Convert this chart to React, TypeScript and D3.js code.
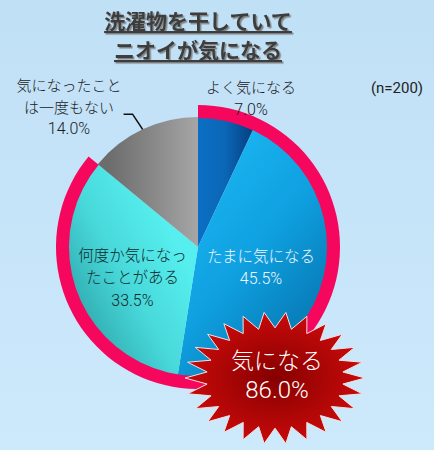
import React from 'react';
import * as d3 from 'd3';

const categories = ['よく気になる', 'たまに気になる', '何度か気になったことがある', '気になったことは一度もない'];
const values = [7.0, 45.5, 33.5, 14.0];
const labelLines = [
  ['よく気になる', '7.0%'],
  ['たまに気になる', '45.5%'],
  ['何度か気になっ', 'たことがある', '33.5%'],
  ['気になったこと', 'は一度もない', '14.0%'],
];
const titleLines = ['洗濯物を干していて', 'ニオイが気になる'];
const highlightCount = 3; // first three slices = 気になる
const burstTitle = '気になる';
const sampleNote = '(n=200)';

const sliceColors = [
  ['#0b6fc4', '#0b66b6', '#053f80'],
  ['#18b0ee', '#0fa0e0', '#0880bc'],
  ['#56eeee', '#48d8da', '#2ea8ac'],
  ['#6c6c6c', '#888888', '#a6a6a6'],
];
// gradient vectors, relative to the pie centre
const sliceGrad = [
  [0, -60, 55, -60],
  [20, -70, 135, 30],
  [-20, 0, -130, 60],
  [-90, -60, 0, -60],
];

const W = 434;
const H = 450;
const cx = 198;
const cy = 247;
const R = 130;
const FONT = '"Noto Sans CJK JP", "Noto Sans", sans-serif';
const NUM_FONT = 'Roboto, "Noto Sans", sans-serif';

const isNum = (t: string) => /^[\d.%()=n]+$/.test(t);

export default function App() {
  const pie = d3.pie<number>().sort(null).value(d => d)(values);
  const arc = d3.arc<d3.PieArcDatum<number>>().innerRadius(0).outerRadius(R);
  const ringEnd = pie[highlightCount - 1].endAngle;
  const ring = d3.arc()({ innerRadius: R - 1, outerRadius: R + 12, startAngle: 0, endAngle: ringEnd }) || '';

  const highlightTotal = d3.sum(values.slice(0, highlightCount));

  // starburst
  const spikes = 26;
  const burst = d3.range(spikes * 2).map(i => {
    const a = (i / (spikes * 2)) * Math.PI * 2;
    const k = i % 2 === 0 ? 1 : 0.76;
    return [Math.cos(a) * 90 * k, Math.sin(a) * 66 * k] as [number, number];
  });
  const burstPath = (d3.line().curve(d3.curveLinearClosed)(burst)) || '';

  // leader for the last slice
  const last = pie[3];
  const midA = (last.startAngle + last.endAngle) / 2;
  const pEdge = [Math.sin(midA) * R, -Math.cos(midA) * R];
  const pElbow = [Math.sin(midA) * 149, -Math.cos(midA) * 149 + 2];
  const leader = `M${pEdge[0]},${pEdge[1]}L${pElbow[0] - 2},${pElbow[1]}L${pElbow[0] - 11},${pElbow[1]}`;

  const inner = d3.arc<d3.PieArcDatum<number>>().innerRadius(68).outerRadius(68);

  return (
    <div>
      <style>{'body{margin:0}'}</style>
      <svg width={W} height={H} style={{ display: 'block', fontFamily: FONT }}>
        <defs>
          <linearGradient id="bg" x1="0" y1="0" x2="0" y2="1">
            <stop offset="0" stopColor="#c0e0f6" />
            <stop offset="1" stopColor="#cde9fc" />
          </linearGradient>
          {sliceColors.map((c, i) => (
            <linearGradient key={i} id={`sg${i}`} gradientUnits="userSpaceOnUse"
              x1={sliceGrad[i][0]} y1={sliceGrad[i][1]} x2={sliceGrad[i][2]} y2={sliceGrad[i][3]}>
              <stop offset="0" stopColor={c[0]} />
              <stop offset="0.5" stopColor={c[1]} />
              <stop offset="1" stopColor={c[2]} />
            </linearGradient>
          ))}
          <radialGradient id="burst" cx="0.5" cy="0.5" r="0.5">
            <stop offset="0" stopColor="#860000" />
            <stop offset="1" stopColor="#c80a0a" />
          </radialGradient>
          <filter id="ts" x="-10%" y="-10%" width="120%" height="140%">
            <feDropShadow dx="1.5" dy="1.5" stdDeviation="0.6" floodColor="#7a7a7a" floodOpacity="0.9" />
          </filter>
        </defs>
        <rect width={W} height={H} fill="url(#bg)" />

        {titleLines.map((t, i) => (
          <text key={t} x={cx} y={29 + i * 29} textAnchor="middle" fontSize={21} fontWeight={700}
            fill="#3c3c3c" textDecoration="underline" filter="url(#ts)">{t}</text>
        ))}
        <text x={397} y={93} textAnchor="middle" fontSize={15} fontFamily={NUM_FONT} fill="#222">{sampleNote}</text>

        <g transform={`translate(${cx},${cy})`}>
          {pie.map((p, i) => (
            <path key={categories[i]} d={arc(p) || ''} fill={`url(#sg${i})`} />
          ))}
          <path d={ring} fill="#f5075d" />
          <path d={leader} fill="none" stroke="#111" strokeWidth={1.6} />

          {/* inside labels */}
          {[1, 2].map(i => {
            const [lx, ly] = inner.centroid(pie[i]);
            const lines = labelLines[i];
            const y0 = ly - ((lines.length - 1) * 22.5) / 2 + (i === 1 ? 6 : 12);
            return lines.map((t, j) => (
              <text key={t} x={lx - 2} y={y0 + j * 22.5} textAnchor="middle" fontSize={isNum(t) ? 16 : 15.5}
                fontFamily={isNum(t) ? NUM_FONT : undefined} fontWeight={300}
                fill={i === 1 ? '#f0f8ff' : '#0e2a2a'}>{t}</text>
            ));
          })}
        </g>

        {/* outside labels */}
        {labelLines[0].map((t, j) => (
          <text key={t} x={251} y={93 + j * 22} textAnchor="middle" fontSize={isNum(t) ? 16 : 15}
            fontFamily={isNum(t) ? NUM_FONT : undefined} fontWeight={300} fill="#1a1a1a">{t}</text>
        ))}
        {labelLines[3].map((t, j) => (
          <text key={t} x={69} y={91 + j * 21.5} textAnchor="middle" fontSize={isNum(t) ? 16 : 15}
            fontFamily={isNum(t) ? NUM_FONT : undefined} fontWeight={300} fill="#1a1a1a">{t}</text>
        ))}

        <g transform="translate(275,378)">
          <path d={burstPath} fill="url(#burst)" stroke="#f4e0e0" strokeWidth={1} />
          <text x={2} y={-9} textAnchor="middle" fontSize={23} fontWeight={300} fill="#fff">{burstTitle}</text>
          <text x={2} y={20} textAnchor="middle" fontSize={24} fontWeight={300} fontFamily={NUM_FONT} fill="#fff">{highlightTotal.toFixed(1)}%</text>
        </g>
      </svg>
    </div>
  );
}
